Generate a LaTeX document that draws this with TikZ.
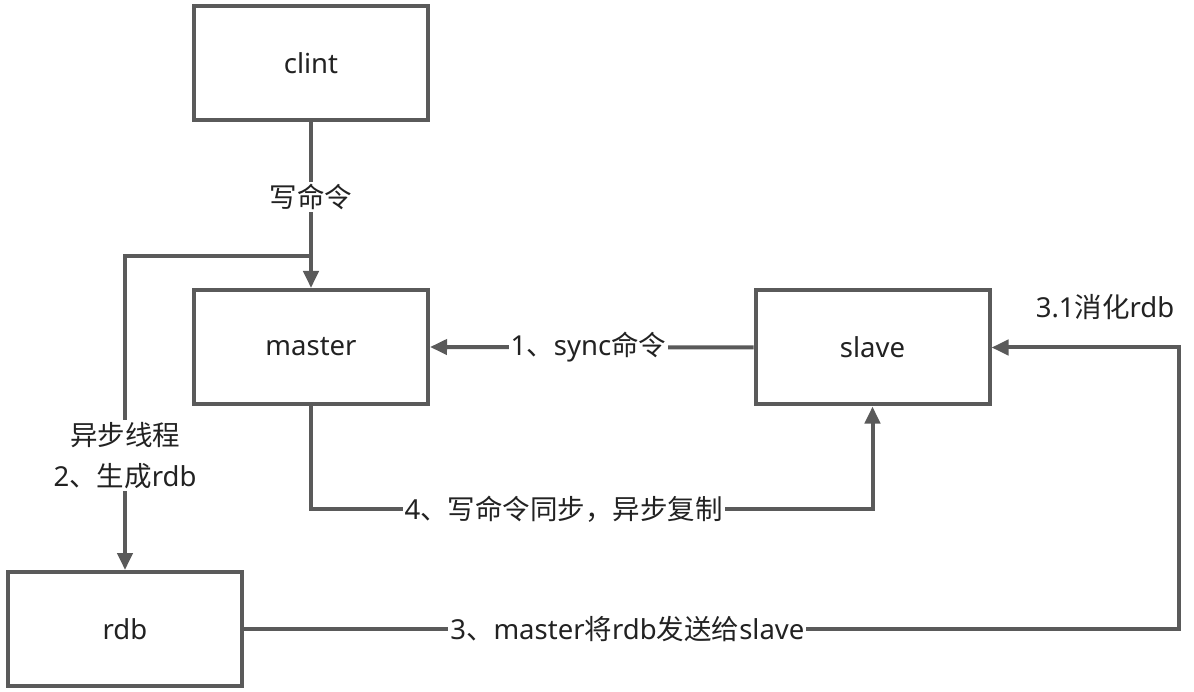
\documentclass[tikz,border=0pt]{standalone}
\usepackage{fontspec}
\setmainfont{Noto Sans}
\newfontfamily\cjk{Noto Sans CJK SC}
\usetikzlibrary{arrows.meta}
\definecolor{ln}{HTML}{5A5A5A}
\definecolor{tx}{HTML}{222222}
\begin{document}
\begin{tikzpicture}[x=1pt,y=-1pt,
  box/.style={draw=ln,line width=4pt,minimum width=234pt,minimum height=114pt,
    inner sep=0pt,font=\fontsize{27.5}{31}\selectfont,text=tx},
  conn/.style={draw=ln,line width=4pt,-{Triangle[length=17pt,width=15pt]}},
  lbl/.style={fill=white,font=\fontsize{27.5}{31}\selectfont,text=tx,inner sep=2pt}]
\useasboundingbox[fill=white] (0,0) rectangle (1194,692);
\node[box] (clint) at (311,63) {clint};
\node[box] (master) at (311,347) {master};
\node[box] (slave) at (872.5,347.5) {slave};
\node[box] (rdb) at (125,629) {rdb};
\coordinate (j) at (311,256);
\coordinate (k) at (125,256);
\coordinate (h1) at (311,509);
\coordinate (h2) at (872.5,509);
\coordinate (r1) at (1179,629);
\coordinate (r2) at (1179,347.5);
\draw[conn] (clint.south) -- node[lbl,pos=0.45]{\cjk 写命令} (master.north);
\draw[conn] (j) -- (k) -- node[lbl,pos=0.636,align=center]{\cjk 异步线程\\[10pt]2{\cjk 、生成}rdb} (rdb.north);
\draw[conn] (slave.west) -- node[lbl,pos=0.51]{1{\cjk 、}sync{\cjk 命令}} (master.east);
\draw[conn] (master.south) -- (h1) -- node[lbl,pos=0.45]{4{\cjk 、写命令同步，异步复制}} (h2) -- (slave.south);
\draw[conn] (rdb.east) -- node[lbl,pos=0.41]{3{\cjk 、}master{\cjk 将}rdb{\cjk 发送给}slave} (r1) -- (r2) -- (slave.east);
\node[lbl] (l31) at (1105,307) {3.1{\cjk 消化}rdb};
\end{tikzpicture}
\end{document}
